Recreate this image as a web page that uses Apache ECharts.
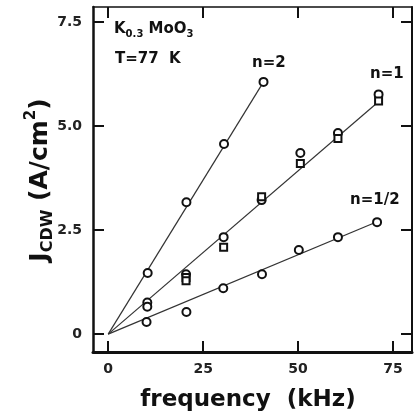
<!DOCTYPE html>
<html lang="en">
<head>
    <meta charset="UTF-8">
    <title>JCDW vs frequency</title>
    <script src="https://cdn.jsdelivr.net/npm/echarts@6/dist/echarts.min.js"></script>
    <style>
        html, body { margin: 0; padding: 0; background: #fff; }
        #main { width: 417px; height: 416px; }
    </style>
</head>
<body>
    <div id="main"></div>
    <script>
        // tick positions
        var xTicks = [0, 25, 50, 75];
        var yTicks = [0, 2.5, 5, 7.5];

        // measured points, [frequency kHz, J A/cm2]
        var n2Circles = [[10.4, 1.47], [20.6, 3.17], [30.5, 4.57], [40.9, 6.06]];
        var n1Circles = [[10.3, 0.76], [10.3, 0.66], [20.5, 1.44], [30.4, 2.33], [40.4, 3.22], [50.6, 4.35], [60.5, 4.83], [71.2, 5.76]];
        var n1Squares = [[20.5, 1.36], [20.5, 1.28], [30.4, 2.09], [40.4, 3.30], [50.6, 4.10], [60.5, 4.70], [71.2, 5.60]];
        var nHalfCircles = [[10.1, 0.29], [20.6, 0.53], [30.3, 1.10], [40.5, 1.44], [50.2, 2.02], [60.5, 2.33], [70.8, 2.69]];

        // fitted lines through origin
        var fitN2 = [[0, 0], [40.9, 6.06]];
        var fitN1 = [[0, 0], [71.4, 5.60]];
        var fitNHalf = [[0, 0], [70.8, 2.70]];

        var ink = '#111';
        var fam = 'DejaVu Sans';
        var chart = echarts.init(document.getElementById('main'));

        function xAxisCfg(pos, showLabel, lineW) {
            return {
                type: 'value', min: -4, max: 80, position: pos,
                axisLine: { onZero: false, lineStyle: { color: ink, width: lineW } },
                axisTick: { inside: true, length: 11, customValues: xTicks, lineStyle: { color: ink, width: 2 } },
                axisLabel: {
                    show: showLabel, customValues: xTicks, margin: 10,
                    color: '#222', fontFamily: fam, fontWeight: 'bold', fontSize: 14
                },
                splitLine: { show: false }
            };
        }

        function yAxisCfg(pos, showLabel, lineW) {
            return {
                type: 'value', min: -0.43, max: 7.86, position: pos,
                axisLine: { onZero: false, lineStyle: { color: ink, width: lineW } },
                axisTick: { inside: true, length: 11, customValues: yTicks, lineStyle: { color: ink, width: 2 } },
                axisLabel: {
                    show: showLabel, customValues: yTicks, margin: 11,
                    color: '#222', fontFamily: fam, fontWeight: 'bold', fontSize: 14,
                    formatter: function (v) { return v === 0 ? '0' : v.toFixed(1); }
                },
                splitLine: { show: false }
            };
        }

        function pts(data, symbol, size) {
            return {
                type: 'scatter', data: data, symbol: symbol, symbolSize: size,
                itemStyle: { color: ink, borderColor: ink, borderWidth: 1.5, opacity: 1 },
                z: 5
            };
        }

        function fit(data) {
            return {
                type: 'line', data: data, showSymbol: false, symbol: 'none',
                lineStyle: { color: '#333', width: 1.2 }, z: 3
            };
        }

        function note(x, y, txt) {
            return { type: 'text', left: x, top: y, style: { text: txt, fontFamily: fam, fontWeight: 'bold', fontSize: 15, fill: ink } };
        }

        chart.setOption({
            animation: false,
            backgroundColor: '#fff',
            grid: { left: 93, top: 7, right: 5, bottom: 64 },
            xAxis: [xAxisCfg('bottom', true, 3), xAxisCfg('top', false, 1.5)],
            yAxis: [yAxisCfg('left', true, 2.5), yAxisCfg('right', false, 2)],
            series: [
                fit(fitN2), fit(fitN1), fit(fitNHalf),
                pts(n2Circles, 'emptyCircle', 8),
                pts(n1Circles, 'emptyCircle', 8),
                pts(n1Squares, 'emptyRect', 7),
                pts(nHalfCircles, 'emptyCircle', 8)
            ],
            graphic: [
                {
                    type: 'text', left: 114, top: 22,
                    style: {
                        text: '{b|K}{s|0.3}{b| MoO}{s|3}',
                        rich: {
                            b: { fontFamily: fam, fontWeight: 'bold', fontSize: 15, fill: ink, lineHeight: 20 },
                            s: { fontFamily: fam, fontWeight: 'bold', fontSize: 10, fill: ink, lineHeight: 20, verticalAlign: 'bottom', padding: [6, 0, 0, 0] }
                        }
                    }
                },
                note(115, 52, 'T=77  K'),
                note(252, 56, 'n=2'),
                note(370, 67, 'n=1'),
                note(350, 193, 'n=1/2'),
                {
                    type: 'text', x: 248, y: 400,
                    style: { text: 'frequency  (kHz)', align: 'center', verticalAlign: 'middle', font: 'bold 23px "DejaVu Sans"', fill: ink }
                },
                {
                    type: 'text', x: 40, y: 180, rotation: Math.PI / 2,
                    style: {
                        text: '{j|J}{sub|CDW}{j| (A/cm}{sup|2}{j|)}',
                        align: 'center', verticalAlign: 'middle',
                        rich: {
                            j: { fontFamily: fam, fontWeight: 'bold', fontSize: 25, fill: ink, lineHeight: 32 },
                            sub: { fontFamily: fam, fontWeight: 'bold', fontSize: 16, fill: ink, lineHeight: 32, verticalAlign: 'bottom', padding: [12, 0, 0, 0] },
                            sup: { fontFamily: fam, fontWeight: 'bold', fontSize: 15, fill: ink, lineHeight: 32, verticalAlign: 'top', padding: [0, 0, 10, 0] }
                        }
                    }
                }
            ]
        });
    </script>
</body>
</html>
